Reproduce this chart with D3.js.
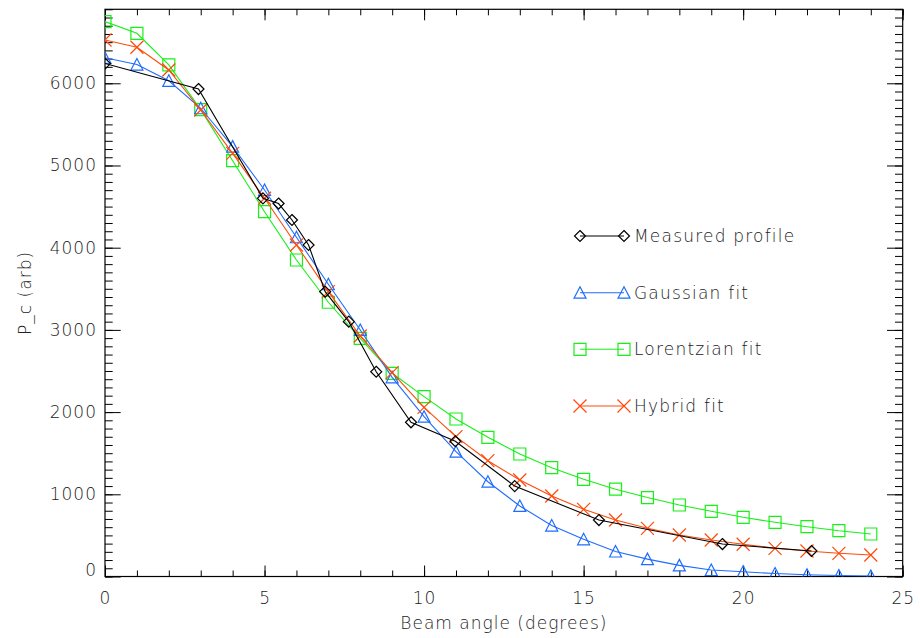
<!DOCTYPE html>
<html><head><meta charset="utf-8">
<script src="https://cdn.jsdelivr.net/npm/d3@7"></script>
<style>
body{margin:0;background:#fff;}
text{font-family:"DejaVu Sans",sans-serif;font-weight:200;fill:#222;}
</style></head>
<body><svg id="c" width="920" height="638"></svg>
<script>
// ---- data ----
const measuredX = [0, 2.93, 4.95, 5.44, 5.86, 6.38, 6.9, 7.64, 8.5, 9.59, 10.98, 12.84, 15.48, 19.35, 22.14];
const measuredY = [6240, 5930, 4600, 4537, 4337, 4033, 3465, 3100, 2491, 1876, 1645, 1100, 687, 395, 310];
const fitX = [0,1,2,3,4,5,6,7,8,9,10,11,12,13,14,15,16,17,18,19,20,21,22,23,24];
const gaussianY = [6310, 6228, 6030, 5696, 5229, 4702, 4127, 3555, 2999, 2423, 1944, 1518, 1153, 858, 620, 452, 304, 211, 135, 79, 57, 36, 22, 13, 7];
const lorentzY = [6750, 6608, 6223, 5680, 5058, 4438, 3850, 3336, 2898, 2472, 2188, 1916, 1693, 1490, 1324, 1182, 1062, 960, 870, 793, 720, 659, 606, 557, 517];
const hybridY = [6527, 6438, 6162, 5675, 5148, 4601, 4033, 3465, 2926, 2480, 2058, 1701, 1409, 1174, 979, 817, 687, 586, 505, 444, 392, 343, 310, 282, 262];
const seriesNames = ["Measured profile", "Gaussian fit", "Lorentzian fit", "Hybrid fit"];
const xMajor = [0,5,10,15,20,25];
const xMinor = d3.range(0, 26, 1);
const yMajor = [0,1000,2000,3000,4000,5000,6000];
const yMinor = d3.range(0, 6901, 100);
const xLabel = "Beam angle (degrees)";
const yLabel = "P_c (arb)";

// ---- layout ----
const L = 105, R = 902.7, T = 9.3, B = 576.5;
const svg = d3.select("#c");
const x = d3.scaleLinear().domain([0,25]).range([L,R]);
const y = d3.scaleLinear().domain([0,6900]).range([B,T]);

const colors = ["#000000", "#1f6cff", "#17f017", "#ff4a0a"];

svg.append("defs").append("clipPath").attr("id","clip")
  .append("rect").attr("x",L).attr("y",T).attr("width",R-L).attr("height",B-T);

// axes (inward ticks)
function styleAxis(g){ g.select(".domain").remove(); g.selectAll("line").attr("stroke","#000").attr("stroke-width",1); }
const fmt = d3.format("d");
// bottom
svg.append("g").attr("transform",`translate(0,${B})`)
  .call(d3.axisBottom(x).tickValues(xMinor).tickSize(-6).tickFormat("")).call(styleAxis);
const bx = svg.append("g").attr("transform",`translate(0,${B})`)
  .call(d3.axisBottom(x).tickValues(xMajor).tickSize(-11).tickPadding(15).tickFormat(fmt)).call(styleAxis);
bx.selectAll("text").style("font-size","17px").style("letter-spacing","1px").attr("fill","#222");
// top
svg.append("g").attr("transform",`translate(0,${T})`)
  .call(d3.axisTop(x).tickValues(xMinor).tickSize(-6).tickFormat("")).call(styleAxis);
svg.append("g").attr("transform",`translate(0,${T})`)
  .call(d3.axisTop(x).tickValues(xMajor).tickSize(-11).tickFormat("")).call(styleAxis);
// left
svg.append("g").attr("transform",`translate(${L},0)`)
  .call(d3.axisLeft(y).tickValues(yMinor).tickSize(-7.7).tickFormat("")).call(styleAxis);
const ly = svg.append("g").attr("transform",`translate(${L},0)`)
  .call(d3.axisLeft(y).tickValues(yMajor).tickSize(-15.7).tickPadding(8).tickFormat(fmt)).call(styleAxis);
ly.selectAll("text").style("font-size","17px").style("letter-spacing","1px").attr("fill","#222")
  .attr("dy", d => d === 0 ? "-0.05em" : "0.32em");
// right
svg.append("g").attr("transform",`translate(${R},0)`)
  .call(d3.axisRight(y).tickValues(yMinor).tickSize(-7.7).tickFormat("")).call(styleAxis);
svg.append("g").attr("transform",`translate(${R},0)`)
  .call(d3.axisRight(y).tickValues(yMajor).tickSize(-15.7).tickFormat("")).call(styleAxis);
// frame
svg.append("rect").attr("x",L).attr("y",T).attr("width",R-L).attr("height",B-T)
  .attr("fill","none").attr("stroke","#000").attr("stroke-width",1.2);

// axis titles
svg.append("text").attr("x",(L+R)/2).attr("y",629).attr("text-anchor","middle")
  .style("font-size","17px").style("letter-spacing","1px").text(xLabel);
svg.append("text").attr("transform",`translate(31,${(T+B)/2}) rotate(-90)`).attr("text-anchor","middle")
  .style("font-size","17px").style("letter-spacing","1px").text(yLabel);

// marker shapes
function markerPath(kind){
  if(kind===0) return "M0,-5.5L5.5,0L0,5.5L-5.5,0Z";
  if(kind===1) return "M-6,5.5L0,-6L6,5.5Z";
  if(kind===2) return "M-6,-6H6V6H-6Z";
  return "M-6.5,-6.5L6.5,6.5M-6.5,6.5L6.5,-6.5";
}

const series = [
  {xs: measuredX, ys: measuredY},
  {xs: fitX, ys: gaussianY},
  {xs: fitX, ys: lorentzY},
  {xs: fitX, ys: hybridY}
];
const plot = svg.append("g").attr("clip-path","url(#clip)");
const line = d3.line().x(d=>x(d[0])).y(d=>y(d[1]));
// draw order: hybrid, lorentz, gaussian, measured? keep measured on top
[2,1,3,0].forEach(i=>{
  const s = series[i];
  const pts = s.xs.map((v,j)=>[v,s.ys[j]]);
  plot.append("path").datum(pts).attr("d",line).attr("fill","none")
    .attr("stroke",colors[i]).attr("stroke-width",1.1);
  plot.selectAll(null).data(pts).enter().append("path")
    .attr("transform",d=>`translate(${x(d[0])},${y(d[1])})`)
    .attr("d",markerPath(i)).attr("fill","none").attr("stroke",colors[i]).attr("stroke-width",1.2);
});

// legend
const lg = svg.append("g");
const legY = [236, 292.7, 349.3, 406];
seriesNames.forEach((name,i)=>{
  const g = lg.append("g").attr("transform",`translate(0,${legY[i]})`);
  g.append("line").attr("x1",580).attr("x2",624).attr("y1",0).attr("y2",0)
    .attr("stroke",colors[i]).attr("stroke-width",1.1);
  [580,624].forEach(px=>g.append("path").attr("transform",`translate(${px},0)`)
    .attr("d",markerPath(i)).attr("fill","none").attr("stroke",colors[i]).attr("stroke-width",1.2));
  g.append("text").attr("x",634).attr("y",0).attr("dy","0.36em")
    .style("font-size","17px").style("letter-spacing","1.2px").text(name);
});
</script></body></html>
